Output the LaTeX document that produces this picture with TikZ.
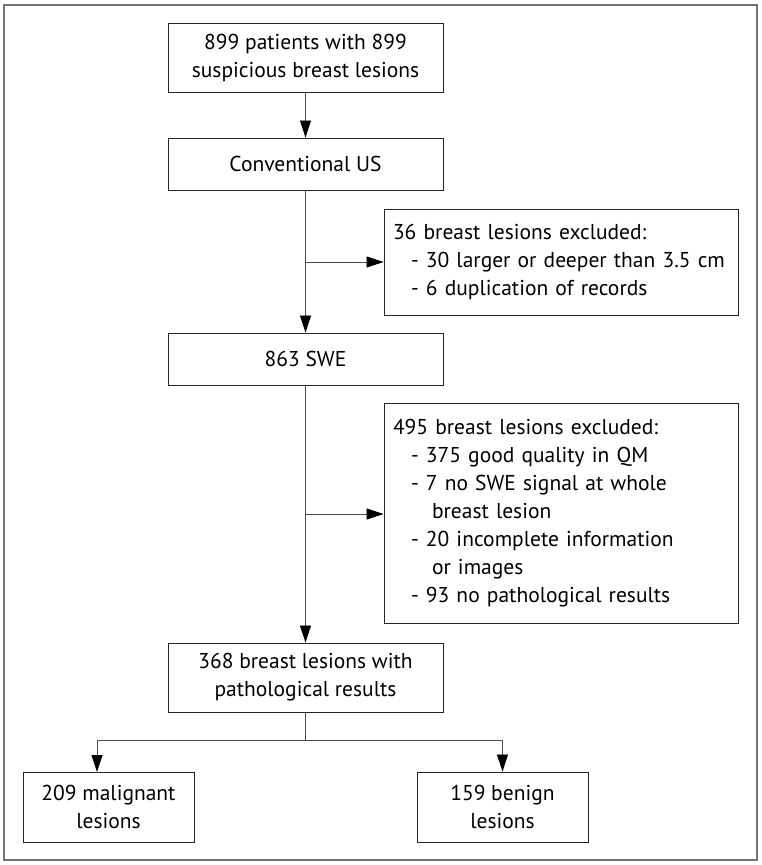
\documentclass[tikz,border=0pt]{standalone}
\usepackage{fontspec}
\setmainfont{PT Sans}
\usetikzlibrary{arrows.meta,positioning}

\begin{document}
\begin{tikzpicture}[x=1pt,y=-1pt,
  box/.style={draw=black!85,line width=0.9pt,minimum width=275pt,align=center,
    font=\fontsize{21.5}{28}\selectfont,inner sep=0pt},
  smallbox/.style={box,minimum width=171pt,minimum height=70pt},
  exclbox/.style={draw=black!85,line width=0.9pt,minimum width=354pt,text width=336pt,
    align=left,font=\fontsize{21.5}{28}\selectfont,inner sep=0pt},
  arr/.style={draw=black!70,line width=0.8pt,-{Triangle[length=17pt,width=11pt,color=black]}},
  line/.style={draw=black!70,line width=0.8pt}]
\useasboundingbox (0,0) rectangle (762,865);
\draw[black!55,line width=1.2pt] (4,5) rectangle (757,860);
\node[box,minimum height=69pt] (start) at (305.5,57.5) {899 patients with 899\\suspicious breast lesions};
\node[box,minimum height=52pt] (us) at (305.5,164) {Conventional US};
\node[box,minimum height=52pt] (swe) at (305.5,359) {863 SWE};
\node[box,minimum height=69pt] (patho) at (305.5,677.5) {368 breast lesions with\\pathological results};
\node[exclbox,minimum height=106pt] (excl1) at (561,262) {36 breast lesions excluded:\\
  \hspace*{18pt}- 30 larger or deeper than 3.5 cm\\
  \hspace*{18pt}- 6 duplication of records};
\node[exclbox,minimum height=220pt] (excl2) at (561,513) {495 breast lesions excluded:\\
  \hspace*{18pt}- 375 good quality in QM\\
  \hspace*{18pt}- 7 no SWE signal at whole\\
  \hspace*{39pt}breast lesion\\
  \hspace*{18pt}- 20 incomplete information\\
  \hspace*{39pt}or images\\
  \hspace*{18pt}- 93 no pathological results};
\node[smallbox] (malig) at (108.5,807) {209 malignant\\lesions};
\node[smallbox] (benign) at (502.5,807) {159 benign\\lesions};
\coordinate (b1) at (305.5,262);
\coordinate (b2) at (305.5,514);
\coordinate (split) at (305.5,740);
\draw[arr] (start) -- (us);
\draw[arr] (us) -- (swe);
\draw[arr] (swe) -- (patho);
\draw[arr] (b1) -- (b1 -| excl1.west);
\draw[arr] (b2) -- (b2 -| excl2.west);
\draw[line] (patho) -- (split);
\draw[arr] (split) -| (97,772);
\draw[arr] (split) -| (benign.north);
\end{tikzpicture}
\end{document}
